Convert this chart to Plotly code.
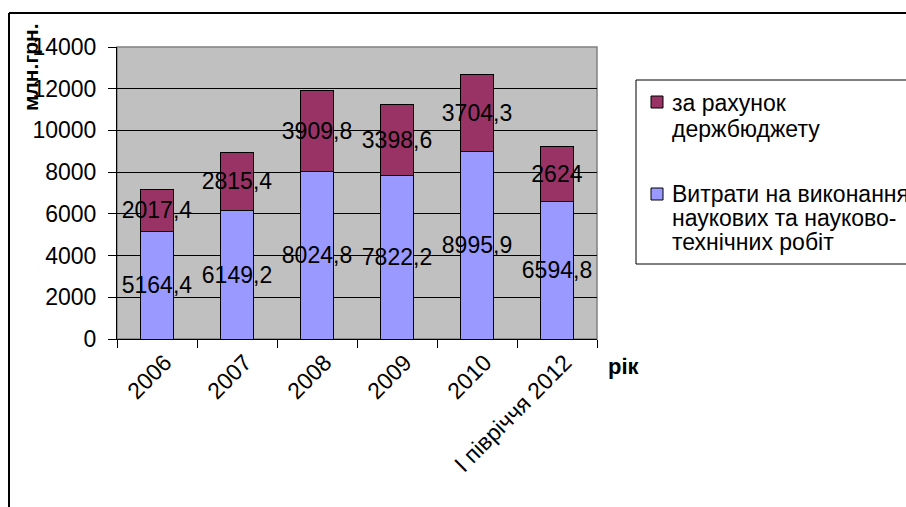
import plotly.graph_objects as go

categories = ["2006", "2007", "2008", "2009", "2010", "I півріччя 2012"]
budget = [2017.4, 2815.4, 3909.8, 3398.6, 3704.3, 2624]
research = [5164.4, 6149.2, 8024.8, 7822.2, 8995.9, 6594.8]
name_budget = "за рахунок держбюджету"
name_research = "Витрати на виконання наукових та науково-технічних робіт"
legend_budget_lines = ["за рахунок", "держбюджету"]
legend_research_lines = ["Витрати на виконання", "наукових та науково-", "технічних робіт"]
y_ticks = [0, 2000, 4000, 6000, 8000, 10000, 12000, 14000]
y_ticktext = [str(v) for v in y_ticks]

W, H = 906, 507
L, R, T, B = 117, 597, 47, 339
FONT = "Liberation Sans, Arial, sans-serif"
BLUE = "#9999FF"
RED = "#993366"


def fmt(v):
    s = ("%.1f" % v).rstrip("0").rstrip(".")
    return s.replace(".", ",")


def px(x):
    return (x - L) / (R - L)


def py(y):
    return (B - y) / (B - T)


def hline(x0, x1, y, color="black", width=1):
    return dict(type="line", xref="paper", yref="paper",
                x0=px(x0), x1=px(x1), y0=py(y), y1=py(y),
                line=dict(color=color, width=width))


def vline(x, y0, y1, color="black", width=1):
    return dict(type="line", xref="paper", yref="paper",
                x0=px(x), x1=px(x), y0=py(y0), y1=py(y1),
                line=dict(color=color, width=width))


fig = go.Figure()
fig.add_trace(go.Bar(
    x=categories, y=research, name=name_research,
    marker=dict(color=BLUE, line=dict(color="black", width=1)),
    width=0.41, text=[fmt(v) for v in research],
    textposition="inside", insidetextanchor="middle", textangle=0,
    constraintext="none",
    insidetextfont=dict(family=FONT, size=23, color="black"),
    showlegend=False,
))
fig.add_trace(go.Bar(
    x=categories, y=budget, name=name_budget,
    marker=dict(color=RED, line=dict(color="black", width=1)),
    width=0.41, text=[fmt(v) for v in budget],
    textposition="inside", insidetextanchor="middle", textangle=0,
    constraintext="none",
    insidetextfont=dict(family=FONT, size=23, color="black"),
    showlegend=False,
))

shapes = []
# outer chart border (left and top, runs off the page)
shapes.append(hline(9, 906, 13, width=2))
shapes.append(vline(9, 13, 507, width=2))
# plot area border
shapes.append(dict(type="rect", xref="paper", yref="paper",
                   x0=0, x1=1, y0=0, y1=1,
                   line=dict(color="#808080", width=1.5), layer="below"))
# legend box (right side runs off the page)
shapes.append(hline(636, 906, 80))
shapes.append(hline(636, 906, 264))
shapes.append(vline(636, 80, 264))
# legend swatches
shapes.append(dict(type="rect", xref="paper", yref="paper",
                   x0=px(651), x1=px(663), y0=py(96), y1=py(108),
                   line=dict(color="black", width=1), fillcolor=RED))
shapes.append(dict(type="rect", xref="paper", yref="paper",
                   x0=px(651), x1=px(663), y0=py(188), y1=py(200),
                   line=dict(color="black", width=1), fillcolor=BLUE))

annotations = []
for i, t in enumerate(legend_budget_lines):
    annotations.append(dict(text=t, xref="paper", yref="paper",
                            x=px(670), y=py(103 + 26 * i), xanchor="left", yanchor="middle",
                            showarrow=False, font=dict(family=FONT, size=23, color="black")))
for i, t in enumerate(legend_research_lines):
    annotations.append(dict(text=t, xref="paper", yref="paper",
                            x=px(670), y=py(194 + 24 * i), xanchor="left", yanchor="middle",
                            showarrow=False, font=dict(family=FONT, size=23, color="black")))
annotations.append(dict(text="<b>млн.грн.</b>", xref="paper", yref="paper",
                        x=px(30), y=py(67), xanchor="center", yanchor="middle",
                        textangle=-90, showarrow=False,
                        font=dict(family=FONT, size=21, color="black")))
annotations.append(dict(text="<b>рік</b>", xref="paper", yref="paper",
                        x=px(606), y=py(366), xanchor="left", yanchor="middle",
                        showarrow=False,
                        font=dict(family=FONT, size=22, color="black")))

fig.update_layout(
    width=W, height=H,
    margin=dict(l=L, r=W - R, t=T, b=H - B, pad=0),
    barmode="stack",
    paper_bgcolor="white",
    plot_bgcolor="#C0C0C0",
    font=dict(family=FONT, size=23, color="black"),
    shapes=shapes,
    annotations=annotations,
    xaxis=dict(type="category", range=[-0.5, 5.5], tickangle=-45,
               tickson="boundaries", ticks="outside", ticklen=8, tickcolor="black",
               ticklabelshift=8,
               showline=True, linecolor="black", linewidth=1, showgrid=False,
               tickfont=dict(family=FONT, size=23, color="black")),
    yaxis=dict(range=[0, 14000], tickvals=y_ticks, ticktext=y_ticktext,
               ticks="outside", ticklen=8, ticklabelstandoff=7,
               tickcolor="black", showline=True, linecolor="black", linewidth=1,
               showgrid=True, gridcolor="black", gridwidth=1, zeroline=False,
               tickfont=dict(family=FONT, size=23, color="black")),
)

fig.write_html(
    "out.html",
    config={"displayModeBar": False},
    post_script="document.body.style.margin='0';document.body.style.overflow='hidden';",
)
